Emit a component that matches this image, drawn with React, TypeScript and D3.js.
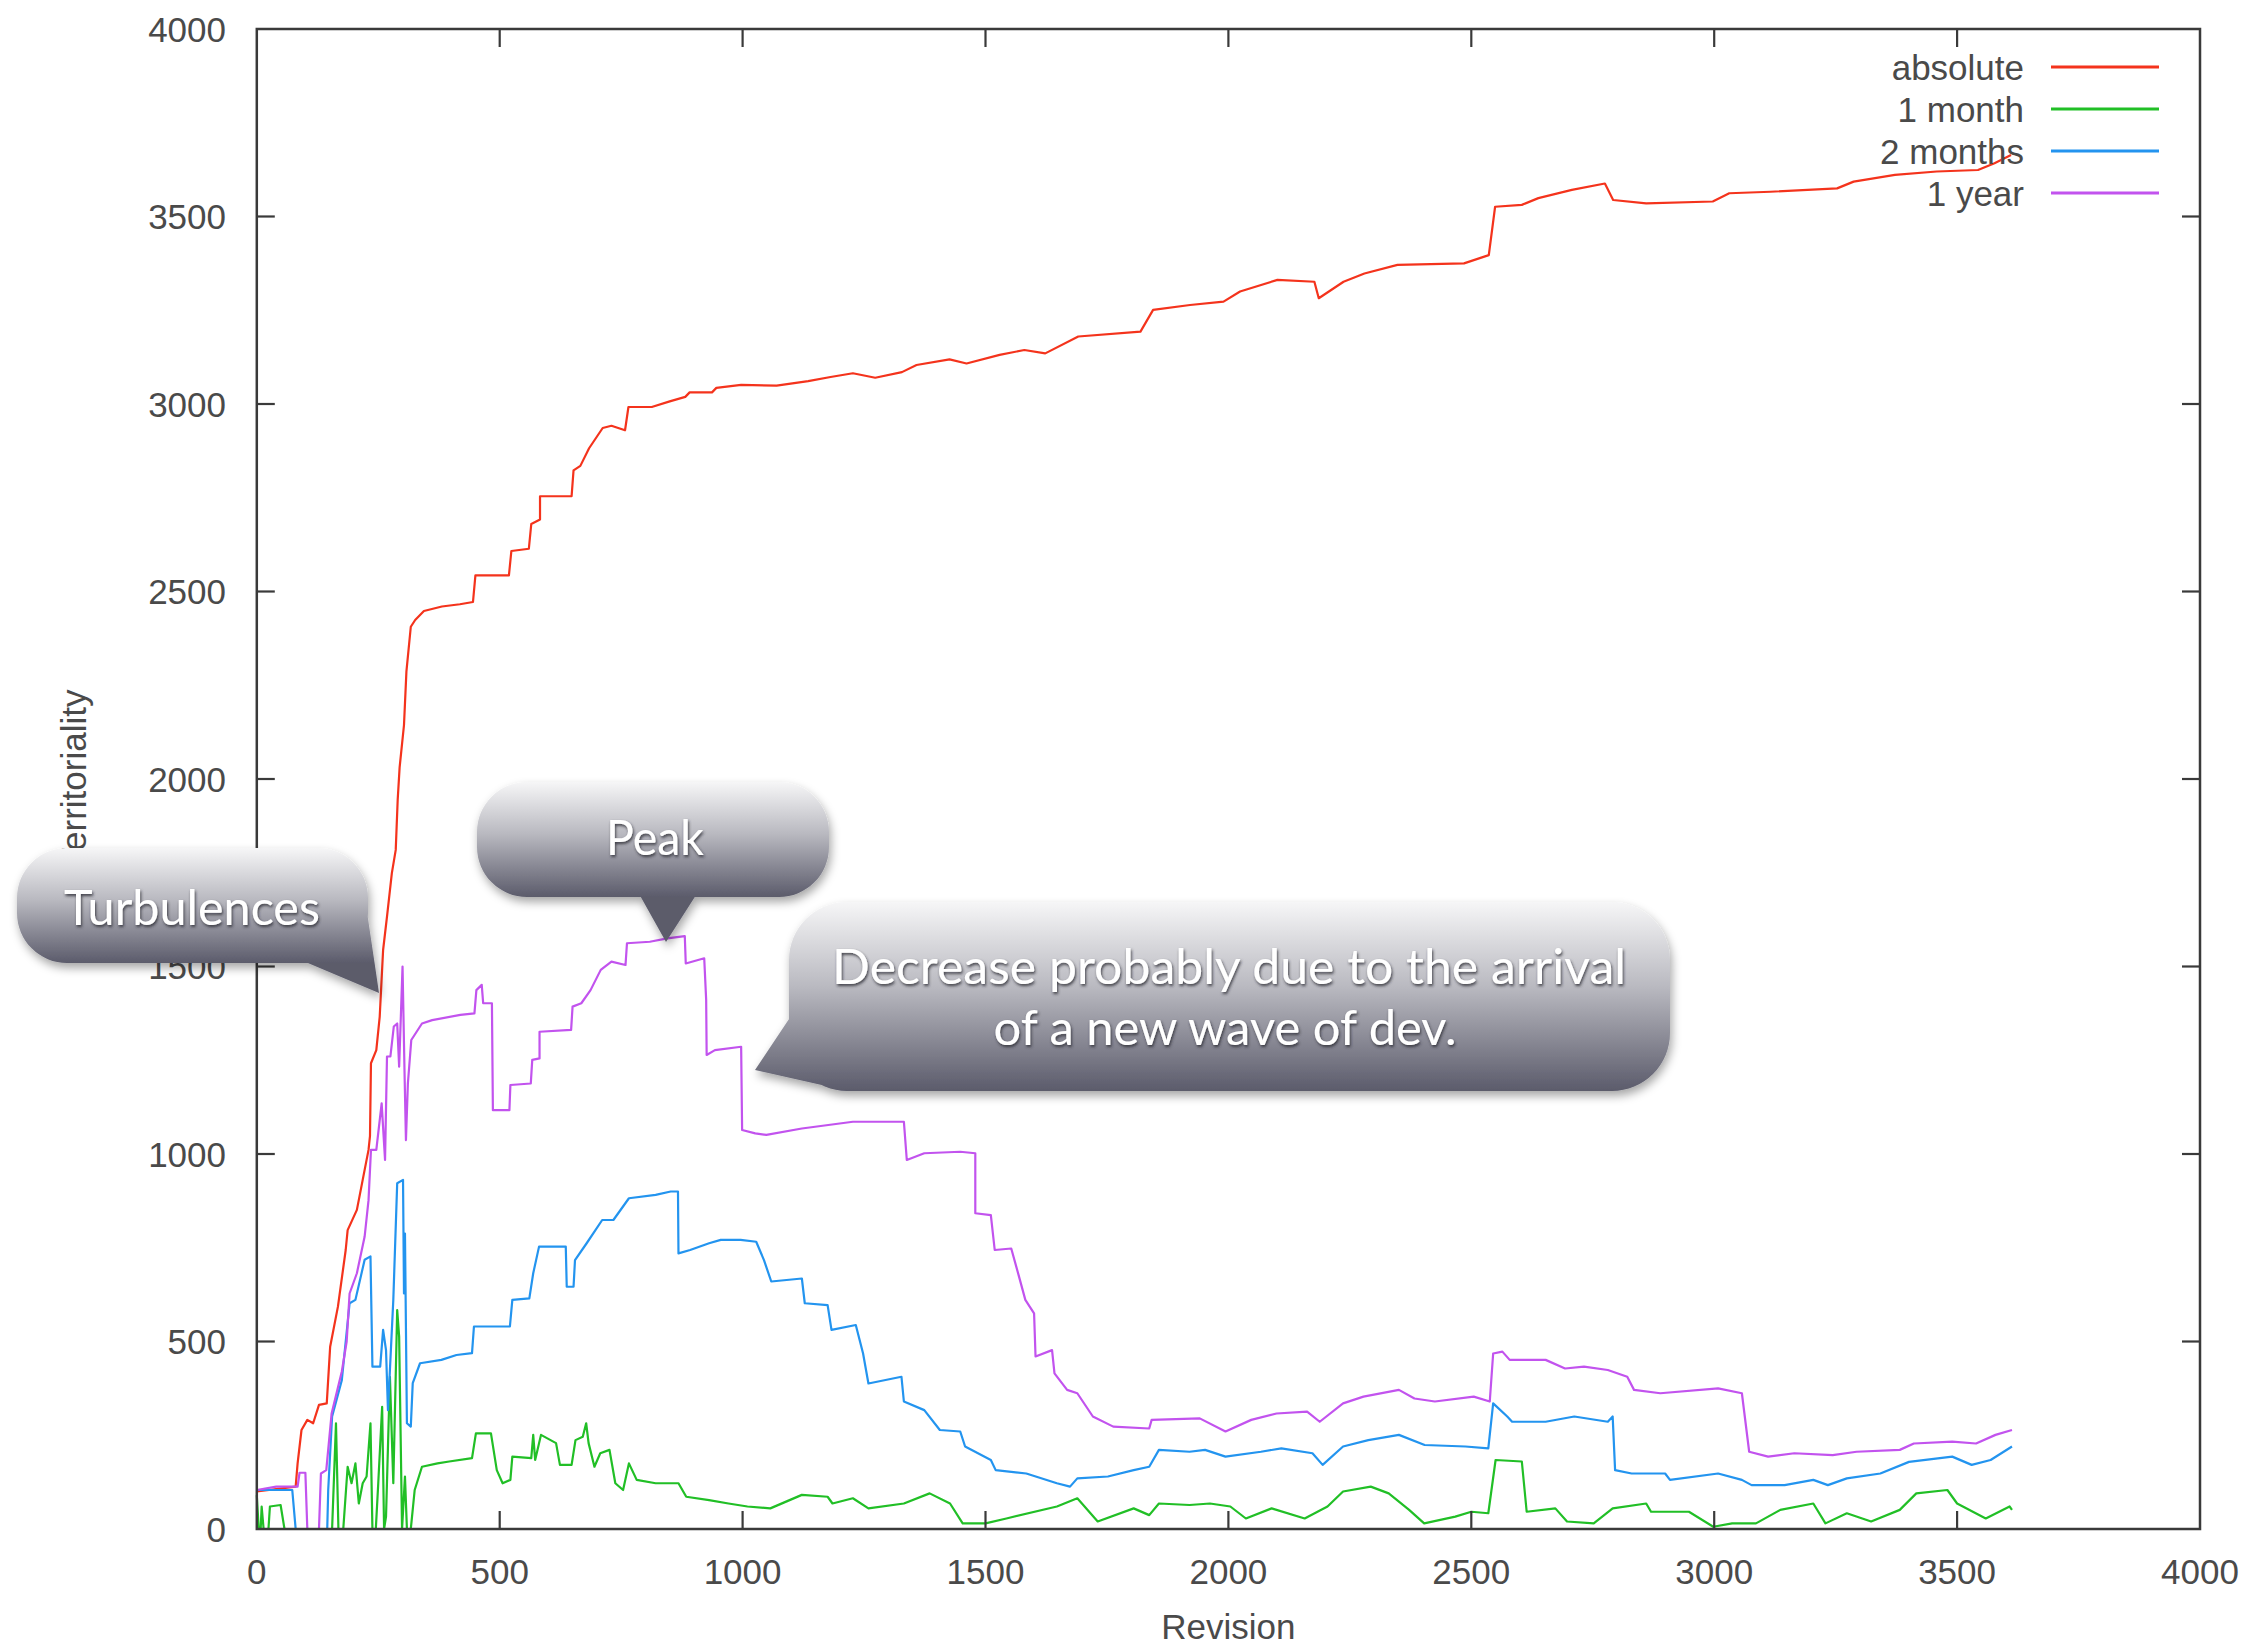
import * as d3 from "d3";

// revision -> territoriality
const absolute: [number, number][] = [
  [0, 100], [80, 113], [84, 175], [92, 264], [104, 291], [116, 282], [128, 331], [144, 335],
  [151, 486], [167, 593], [183, 744], [187, 797], [206, 851], [218, 931], [230, 1011],
  [233, 1048], [235, 1242], [246, 1277], [253, 1366], [260, 1544], [268, 1633], [278, 1749],
  [286, 1811], [290, 1944], [294, 2031], [303, 2144], [308, 2287], [317, 2406], [326, 2424],
  [344, 2448], [381, 2460], [418, 2466], [445, 2472], [450, 2543], [519, 2543], [524, 2608],
  [560, 2614], [565, 2680], [583, 2692], [583, 2754], [648, 2754], [652, 2823], [666, 2835],
  [684, 2882], [712, 2936], [730, 2942], [758, 2930], [765, 2992], [813, 2992], [850, 3007],
  [882, 3019], [891, 3031], [937, 3031], [946, 3043], [997, 3051], [1070, 3049], [1135, 3061],
  [1181, 3072], [1227, 3082], [1273, 3070], [1328, 3085], [1358, 3104], [1426, 3119],
  [1461, 3108], [1529, 3131], [1580, 3144], [1623, 3135], [1691, 3180], [1819, 3193],
  [1845, 3251], [1921, 3264], [1990, 3273], [2024, 3300], [2101, 3331], [2177, 3326],
  [2186, 3282], [2237, 3326], [2280, 3348], [2348, 3371], [2485, 3375], [2536, 3397],
  [2549, 3526], [2604, 3531], [2638, 3549], [2707, 3571], [2775, 3588], [2792, 3544],
  [2860, 3535], [2997, 3540], [3031, 3562], [3116, 3566], [3253, 3575], [3287, 3593],
  [3372, 3611], [3458, 3620], [3543, 3624], [3577, 3642], [3611, 3664],
];

const oneMonth: [number, number][] = [
  [0, 90], [4, 0], [8, 0], [10, 60], [14, 0], [24, 0], [27, 60], [49, 64], [57, 0], [155, 0],
  [163, 282], [168, 0], [178, 0], [187, 166], [195, 122], [203, 175], [210, 68], [218, 122],
  [226, 140], [234, 282], [238, 0], [245, 0], [250, 122], [258, 326], [262, 0], [266, 33],
  [274, 406], [281, 122], [289, 584], [293, 513], [299, 0], [305, 140], [309, 0], [317, 0],
  [325, 104], [340, 166], [372, 175], [396, 180], [443, 189], [451, 255], [482, 255],
  [494, 157], [506, 122], [522, 131], [526, 193], [565, 189], [569, 251], [573, 184],
  [585, 251], [616, 229], [624, 171], [648, 171], [656, 237], [671, 246], [678, 282],
  [683, 229], [695, 166], [707, 202], [726, 211], [738, 122], [754, 104], [766, 175],
  [782, 131], [821, 122], [868, 122], [884, 86], [931, 77], [971, 68], [1010, 60], [1057, 55],
  [1122, 91], [1175, 86], [1185, 68], [1227, 82], [1259, 55], [1332, 68], [1385, 95],
  [1427, 68], [1453, 15], [1500, 15], [1543, 28], [1647, 60], [1689, 82], [1731, 20],
  [1805, 55], [1837, 37], [1857, 68], [1920, 64], [1962, 68], [2004, 60], [2036, 28],
  [2089, 55], [2157, 28], [2204, 60], [2236, 100], [2293, 113], [2330, 95], [2372, 51],
  [2403, 15], [2467, 33], [2500, 46], [2535, 42], [2550, 184], [2604, 180], [2614, 46],
  [2673, 55], [2697, 20], [2752, 15], [2791, 55], [2860, 68], [2870, 46], [2948, 46],
  [2998, 6], [3037, 15], [3086, 15], [3136, 51], [3204, 68], [3229, 15], [3273, 42],
  [3323, 20], [3382, 51], [3416, 95], [3480, 104], [3500, 68], [3559, 28], [3608, 60],
  [3613, 51],
];

const twoMonths: [number, number][] = [
  [0, 104], [73, 104], [80, 0], [145, 0], [147, 104], [155, 300], [175, 397], [191, 602],
  [203, 611], [222, 718], [234, 727], [238, 433], [254, 433], [260, 531], [266, 477],
  [270, 317], [281, 611], [289, 922], [301, 931], [303, 628], [305, 788], [309, 282],
  [317, 273], [321, 389], [336, 442], [380, 451], [411, 464], [443, 469], [447, 540],
  [521, 540], [526, 611], [561, 615], [569, 682], [581, 753], [636, 753], [638, 646],
  [652, 646], [655, 717], [679, 762], [711, 824], [734, 824], [766, 882], [821, 891],
  [852, 900], [867, 900], [868, 735], [892, 744], [931, 762], [955, 771], [996, 771],
  [1028, 766], [1044, 717], [1059, 660], [1122, 668], [1128, 602], [1175, 597], [1183, 531],
  [1233, 544], [1248, 468], [1259, 388], [1327, 406], [1332, 340], [1374, 317], [1406, 264],
  [1448, 260], [1458, 220], [1511, 184], [1521, 157], [1584, 148], [1647, 122], [1674, 113],
  [1689, 135], [1752, 140], [1805, 157], [1837, 166], [1857, 211], [1920, 206], [1952, 211],
  [1994, 193], [2067, 206], [2109, 215], [2173, 202], [2194, 171], [2236, 220], [2288, 237],
  [2351, 251], [2404, 224], [2488, 220], [2535, 215], [2545, 335], [2574, 300], [2584, 286],
  [2653, 286], [2712, 300], [2781, 286], [2791, 300], [2796, 157], [2830, 148], [2899, 148],
  [2909, 131], [3008, 148], [3057, 131], [3077, 117], [3145, 117], [3204, 131], [3234, 117],
  [3273, 135], [3342, 148], [3401, 179], [3490, 193], [3530, 171], [3569, 184], [3613, 220],
];

const oneYear: [number, number][] = [
  [0, 104], [40, 113], [84, 113], [88, 150], [100, 150], [104, 0], [128, 0], [132, 148],
  [143, 157], [154, 308], [175, 420], [185, 500], [191, 628], [206, 682], [222, 780],
  [230, 877], [235, 1011], [246, 1011], [257, 1135], [264, 984], [268, 1260], [275, 1260],
  [282, 1340], [289, 1348], [293, 1233], [300, 1500], [304, 1224], [307, 1037], [311, 1188],
  [318, 1304], [340, 1348], [361, 1357], [419, 1371], [448, 1375], [452, 1437], [463, 1451],
  [466, 1402], [484, 1402], [486, 1117], [520, 1117], [522, 1184], [564, 1188], [567, 1251],
  [582, 1255], [582, 1326], [647, 1331], [650, 1393], [668, 1402], [687, 1437], [708, 1491],
  [730, 1513], [759, 1504], [762, 1562], [809, 1566], [845, 1575], [881, 1581], [883, 1508],
  [921, 1522], [925, 1411], [926, 1264], [943, 1277], [997, 1286], [999, 1064], [1026, 1055],
  [1049, 1051], [1122, 1068], [1227, 1086], [1332, 1086], [1338, 984], [1374, 1002],
  [1448, 1006], [1479, 1002], [1479, 842], [1511, 837], [1519, 744], [1553, 748], [1569, 673],
  [1582, 611], [1600, 575], [1603, 460], [1637, 477], [1642, 415], [1668, 371], [1689, 362],
  [1721, 300], [1763, 273], [1837, 268], [1842, 291], [1941, 295], [1994, 260], [2047, 291],
  [2099, 308], [2162, 313], [2188, 286], [2236, 335], [2278, 353], [2351, 371], [2383, 348],
  [2425, 340], [2505, 353], [2538, 340], [2545, 468], [2564, 473], [2579, 451], [2653, 451],
  [2693, 428], [2732, 433], [2781, 424], [2821, 406], [2835, 371], [2889, 362], [3008, 375],
  [3057, 362], [3072, 206], [3111, 193], [3165, 202], [3244, 197], [3293, 206], [3382, 211],
  [3411, 228], [3490, 233], [3539, 228], [3579, 251], [3613, 264],
];

const seriesNames = ["absolute", "1 month", "2 months", "1 year"];
const seriesColors = ["#f4331c", "#21bf26", "#2394ef", "#c253ee"];
const xTicks = [0, 500, 1000, 1500, 2000, 2500, 3000, 3500, 4000];
const yTicks = [0, 500, 1000, 1500, 2000, 2500, 3000, 3500, 4000];

const W = 2262;
const H = 1649;
const tickFont = "'Liberation Sans', Arial, sans-serif";
const noteFont = "Lato, 'Open Sans', sans-serif";

type Bubble = {
  id: string;
  x0: number; y0: number; x1: number; y1: number; r: number;
  tail: [number, number][];
  lines: { text: string; cx: number; base: number; width: number }[];
};

const bubbles: Bubble[] = [
  {
    id: "turb", x0: 17, y0: 848, x1: 368, y1: 963, r: 50,
    tail: [[296, 958], [366, 905], [379, 993]],
    lines: [{ text: "Turbulences", cx: 192, base: 925, width: 256 }],
  },
  {
    id: "peak", x0: 477, y0: 782, x1: 829, y1: 897, r: 50,
    tail: [[638, 892], [698, 892], [666, 942]],
    lines: [{ text: "Peak", cx: 655, base: 855, width: 98 }],
  },
  {
    id: "decr", x0: 789, y0: 902, x1: 1670, y1: 1091, r: 58,
    tail: [[795, 1010], [835, 1088], [755, 1070]],
    lines: [
      { text: "Decrease probably due to the arrival", cx: 1229, base: 984, width: 794 },
      { text: "of a new wave of dev.", cx: 1225, base: 1045, width: 463 },
    ],
  },
];

// rounded body plus tail, both wound clockwise so they merge
function bubblePath(b: Bubble) {
  const p = d3.path();
  const { x0, y0, x1, y1, r } = b;
  p.moveTo(x0 + r, y0);
  p.lineTo(x1 - r, y0);
  p.arcTo(x1, y0, x1, y0 + r, r);
  p.lineTo(x1, y1 - r);
  p.arcTo(x1, y1, x1 - r, y1, r);
  p.lineTo(x0 + r, y1);
  p.arcTo(x0, y1, x0, y1 - r, r);
  p.lineTo(x0, y0 + r);
  p.arcTo(x0, y0, x0 + r, y0, r);
  p.closePath();
  let [a, c, e] = b.tail;
  const cross = (c[0] - a[0]) * (e[1] - c[1]) - (c[1] - a[1]) * (e[0] - c[0]);
  if (cross < 0) [c, e] = [e, c];
  p.moveTo(a[0], a[1]);
  p.lineTo(c[0], c[1]);
  p.lineTo(e[0], e[1]);
  p.closePath();
  return p.toString();
}

export default function App() {
  const x = d3.scaleLinear().domain([0, 4000]).range([256.8, 2200]);
  const y = d3.scaleLinear().domain([0, 4000]).range([1529, 29]);
  const line = d3
    .line<[number, number]>()
    .x((d) => x(d[0]))
    .y((d) => y(d[1]));
  const data = [absolute, oneMonth, twoMonths, oneYear];
  const tick = 18;

  return (
    <div style={{ position: "absolute", left: 0, top: 0 }}>
      <svg width={W} height={H} style={{ display: "block", background: "#fff" }}>
        <defs>
          {bubbles.map((b) => (
            <linearGradient key={b.id} id={`g-${b.id}`} gradientUnits="userSpaceOnUse" x1={0} x2={0} y1={b.y0} y2={b.y1}>
              <stop offset="0" stopColor="#f6f6f7" />
              <stop offset="0.45" stopColor="#b9b9c0" />
              <stop offset="1" stopColor="#5b5b6b" />
            </linearGradient>
          ))}
          <filter id="bshadow" x="-10%" y="-20%" width="120%" height="150%">
            <feDropShadow dx="2" dy="5" stdDeviation="5" floodColor="#000" floodOpacity="0.35" />
          </filter>
          <filter id="tshadow" x="-10%" y="-30%" width="120%" height="160%">
            <feDropShadow dx="1" dy="2" stdDeviation="1.6" floodColor="#2a2a33" floodOpacity="0.85" />
          </filter>
        </defs>

        {/* series */}
        {data.map((d, i) => (
          <path key={seriesNames[i]} d={line(d) ?? ""} fill="none" stroke={seriesColors[i]} strokeWidth={2.2} strokeLinejoin="round" />
        ))}

        {/* frame and ticks */}
        <rect x={x(0)} y={y(4000)} width={x(4000) - x(0)} height={y(0) - y(4000)} fill="none" stroke="#3a3a3a" strokeWidth={2.5} />
        {xTicks.slice(1, -1).map((t) => (
          <g key={`xt${t}`} stroke="#3a3a3a" strokeWidth={2.2}>
            <line x1={x(t)} x2={x(t)} y1={y(0)} y2={y(0) - tick} />
            <line x1={x(t)} x2={x(t)} y1={y(4000)} y2={y(4000) + tick} />
          </g>
        ))}
        {yTicks.slice(1, -1).map((t) => (
          <g key={`yt${t}`} stroke="#3a3a3a" strokeWidth={2.2}>
            <line x1={x(0)} x2={x(0) + tick} y1={y(t)} y2={y(t)} />
            <line x1={x(4000)} x2={x(4000) - tick} y1={y(t)} y2={y(t)} />
          </g>
        ))}
        {xTicks.map((t) => (
          <text key={`xl${t}`} x={x(t)} y={1584} textAnchor="middle" fontFamily={tickFont} fontSize={35} fill="#4a4a4a">
            {t}
          </text>
        ))}
        {yTicks.map((t) => (
          <text key={`yl${t}`} x={226} y={y(t) + 12.5} textAnchor="end" fontFamily={tickFont} fontSize={35} fill="#4a4a4a">
            {t}
          </text>
        ))}
        <text x={x(2000)} y={1639} textAnchor="middle" fontFamily={tickFont} fontSize={35} fill="#4a4a4a">
          Revision
        </text>
        <text transform="translate(86,779) rotate(-90)" textAnchor="middle" fontFamily={tickFont} fontSize={35} fill="#4a4a4a">
          Territoriality
        </text>

        {/* legend */}
        {seriesNames.map((n, i) => (
          <g key={`lg${n}`}>
            <text x={2024} y={67 + i * 42 + 12.5} textAnchor="end" fontFamily={tickFont} fontSize={35} fill="#4a4a4a">
              {n}
            </text>
            <line x1={2051} x2={2159} y1={67 + i * 42} y2={67 + i * 42} stroke={seriesColors[i]} strokeWidth={3} />
          </g>
        ))}

        {/* callouts */}
        {bubbles.map((b) => (
          <g key={b.id}>
            <path d={bubblePath(b)} fill={`url(#g-${b.id})`} filter="url(#bshadow)" />
            {b.lines.map((l) => (
              <text
                key={l.text}
                x={l.cx}
                y={l.base}
                textAnchor="middle"
                textLength={l.width}
                lengthAdjust="spacingAndGlyphs"
                fontFamily={noteFont}
                fontSize={48}
                fill="#ffffff"
                filter="url(#tshadow)"
              >
                {l.text}
              </text>
            ))}
          </g>
        ))}
      </svg>
    </div>
  );
}
